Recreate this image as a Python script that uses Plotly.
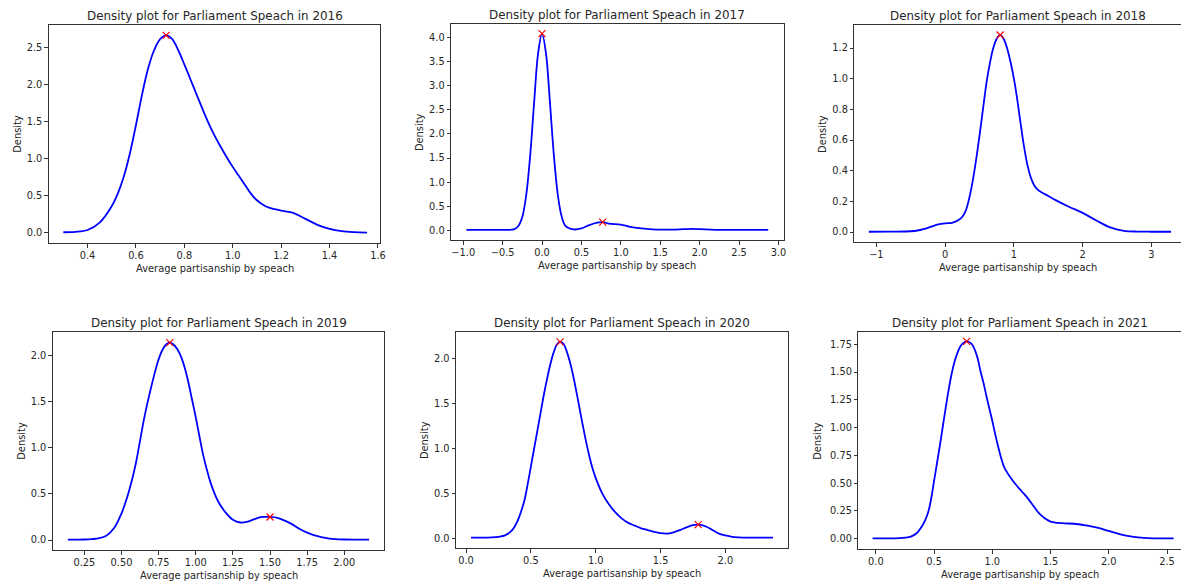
import plotly.graph_objects as go

# ---------------- data ----------------
years = ["2016", "2017", "2018", "2019", "2020", "2021"]

x_2016 = [0.30, 0.35, 0.40, 0.45, 0.50, 0.525, 0.55, 0.575, 0.60, 0.625, 0.65, 0.675, 0.70, 0.725,
          0.75, 0.775, 0.80, 0.825, 0.85, 0.875, 0.90, 0.925, 0.95, 0.975, 1.00, 1.025, 1.05, 1.075,
          1.10, 1.125, 1.15, 1.175, 1.20, 1.25, 1.30, 1.35, 1.40, 1.45, 1.50, 1.555]
y_2016 = [0.01, 0.015, 0.04, 0.14, 0.36, 0.53, 0.76, 1.07, 1.45, 1.86, 2.21, 2.46, 2.61, 2.66,
          2.61, 2.46, 2.27, 2.07, 1.87, 1.67, 1.48, 1.31, 1.16, 1.02, 0.89, 0.77, 0.65, 0.53,
          0.44, 0.38, 0.34, 0.32, 0.30, 0.27, 0.19, 0.11, 0.055, 0.025, 0.012, 0.006]
peak_x_2016 = [0.725]
peak_y_2016 = [2.66]

x_2017 = [-0.96, -0.7, -0.5, -0.4, -0.35, -0.3, -0.25, -0.2, -0.15, -0.1, -0.05, 0.0, 0.05, 0.1,
          0.15, 0.2, 0.25, 0.3, 0.4, 0.5, 0.6, 0.7, 0.77, 0.85, 1.0, 1.1, 1.2, 1.4, 1.6, 1.8, 1.9,
          2.0, 2.2, 2.5, 2.87]
y_2017 = [0.01, 0.01, 0.01, 0.012, 0.025, 0.09, 0.28, 0.74, 1.56, 2.66, 3.67, 4.08, 3.67, 2.66,
          1.56, 0.74, 0.28, 0.09, 0.02, 0.04, 0.11, 0.16, 0.17, 0.14, 0.12, 0.08, 0.05, 0.02, 0.015,
          0.025, 0.03, 0.025, 0.01, 0.01, 0.01]
peak_x_2017 = [0.0, 0.77]
peak_y_2017 = [4.08, 0.17]

x_2018 = [-1.11, -0.8, -0.5, -0.4, -0.3, -0.2, -0.1, 0.0, 0.1, 0.2, 0.25, 0.3, 0.35, 0.4, 0.45,
          0.5, 0.55, 0.6, 0.65, 0.7, 0.75, 0.8, 0.85, 0.9, 0.95, 1.0, 1.05, 1.1, 1.15, 1.2, 1.25,
          1.3, 1.35, 1.4, 1.5, 1.6, 1.8, 2.0, 2.2, 2.4, 2.6, 2.8, 3.0, 3.285]
y_2018 = [0.002, 0.003, 0.005, 0.01, 0.02, 0.035, 0.05, 0.057, 0.06, 0.08, 0.10, 0.14, 0.22, 0.33,
          0.47, 0.63, 0.80, 0.97, 1.10, 1.20, 1.26, 1.285, 1.26, 1.20, 1.11, 1.00, 0.86, 0.70, 0.55,
          0.43, 0.35, 0.30, 0.275, 0.26, 0.235, 0.21, 0.165, 0.125, 0.075, 0.03, 0.008, 0.003,
          0.002, 0.002]
peak_x_2018 = [0.80]
peak_y_2018 = [1.285]

x_2019 = [0.138, 0.2, 0.25, 0.3, 0.35, 0.4, 0.45, 0.5, 0.525, 0.55, 0.575, 0.6, 0.625, 0.65, 0.675,
          0.7, 0.725, 0.75, 0.775, 0.8, 0.825, 0.85, 0.875, 0.9, 0.925, 0.95, 0.975, 1.0, 1.025,
          1.05, 1.075, 1.1, 1.15, 1.2, 1.25, 1.3, 1.35, 1.4, 1.45, 1.5, 1.55, 1.6, 1.65, 1.7, 1.75,
          1.8, 1.85, 1.9, 2.0, 2.167]
y_2019 = [0.005, 0.005, 0.006, 0.01, 0.02, 0.05, 0.13, 0.29, 0.40, 0.53, 0.68, 0.86, 1.08, 1.30,
          1.49, 1.66, 1.82, 1.96, 2.06, 2.12, 2.14, 2.12, 2.07, 1.99, 1.87, 1.71, 1.52, 1.33, 1.12,
          0.92, 0.76, 0.62, 0.42, 0.30, 0.22, 0.19, 0.20, 0.23, 0.25, 0.25, 0.24, 0.21, 0.17, 0.12,
          0.08, 0.05, 0.03, 0.015, 0.006, 0.005]
peak_x_2019 = [0.825, 1.50]
peak_y_2019 = [2.14, 0.25]

x_2020 = [0.038, 0.1, 0.2, 0.25, 0.3, 0.35, 0.375, 0.4, 0.425, 0.45, 0.475, 0.5, 0.525, 0.55, 0.575,
          0.6, 0.625, 0.65, 0.675, 0.7, 0.725, 0.75, 0.775, 0.8, 0.825, 0.85, 0.875, 0.9, 0.925,
          0.95, 0.975, 1.0, 1.05, 1.1, 1.15, 1.2, 1.25, 1.3, 1.35, 1.4, 1.45, 1.5, 1.55, 1.6, 1.65,
          1.7, 1.75, 1.79, 1.85, 1.9, 1.95, 2.0, 2.05, 2.1, 2.2, 2.367]
y_2020 = [0.005, 0.005, 0.008, 0.015, 0.03, 0.08, 0.13, 0.20, 0.30, 0.42, 0.60, 0.80, 1.00, 1.20,
          1.40, 1.60, 1.78, 1.94, 2.07, 2.16, 2.19, 2.17, 2.09, 1.97, 1.82, 1.64, 1.45, 1.26, 1.08,
          0.92, 0.78, 0.67, 0.50, 0.38, 0.29, 0.22, 0.17, 0.14, 0.11, 0.09, 0.07, 0.055, 0.05, 0.065,
          0.09, 0.12, 0.145, 0.15, 0.13, 0.09, 0.05, 0.03, 0.015, 0.008, 0.005, 0.005]
peak_x_2020 = [0.725, 1.79]
peak_y_2020 = [2.19, 0.15]

x_2021 = [-0.028, 0.1, 0.2, 0.25, 0.3, 0.35, 0.4, 0.425, 0.45, 0.475, 0.5, 0.525, 0.55, 0.575, 0.6,
          0.625, 0.65, 0.675, 0.7, 0.725, 0.75, 0.78, 0.8, 0.825, 0.85, 0.875, 0.9, 0.925, 0.95,
          0.975, 1.0, 1.025, 1.05, 1.075, 1.1, 1.15, 1.2, 1.25, 1.3, 1.35, 1.4, 1.45, 1.5, 1.6, 1.7,
          1.8, 1.9, 2.0, 2.1, 2.2, 2.3, 2.4, 2.557]
y_2021 = [0.003, 0.003, 0.006, 0.01, 0.02, 0.05, 0.12, 0.17, 0.24, 0.36, 0.52, 0.68, 0.84, 1.01,
          1.18, 1.34, 1.48, 1.59, 1.67, 1.73, 1.76, 1.775, 1.77, 1.75, 1.70, 1.62, 1.50, 1.40, 1.28,
          1.17, 1.06, 0.94, 0.83, 0.73, 0.65, 0.56, 0.49, 0.43, 0.37, 0.30, 0.23, 0.185, 0.155,
          0.14, 0.135, 0.12, 0.10, 0.07, 0.04, 0.02, 0.008, 0.004, 0.003]
peak_x_2021 = [0.78]
peak_y_2021 = [1.775]

xticks = [
    [0.4, 0.6, 0.8, 1.0, 1.2, 1.4, 1.6],
    [-1.0, -0.5, 0.0, 0.5, 1.0, 1.5, 2.0, 2.5, 3.0],
    [-1, 0, 1, 2, 3],
    [0.25, 0.5, 0.75, 1.0, 1.25, 1.5, 1.75, 2.0],
    [0.0, 0.5, 1.0, 1.5, 2.0],
    [0.0, 0.5, 1.0, 1.5, 2.0, 2.5],
]
xticklabels = [
    ["0.4", "0.6", "0.8", "1.0", "1.2", "1.4", "1.6"],
    ["\u22121.0", "\u22120.5", "0.0", "0.5", "1.0", "1.5", "2.0", "2.5", "3.0"],
    ["\u22121", "0", "1", "2", "3"],
    ["0.25", "0.50", "0.75", "1.00", "1.25", "1.50", "1.75", "2.00"],
    ["0.0", "0.5", "1.0", "1.5", "2.0"],
    ["0.0", "0.5", "1.0", "1.5", "2.0", "2.5"],
]
yticks = [
    [0, 0.5, 1.0, 1.5, 2.0, 2.5],
    [0, 0.5, 1.0, 1.5, 2.0, 2.5, 3.0, 3.5, 4.0],
    [0, 0.2, 0.4, 0.6, 0.8, 1.0, 1.2],
    [0, 0.5, 1.0, 1.5, 2.0],
    [0, 0.5, 1.0, 1.5, 2.0],
    [0, 0.25, 0.5, 0.75, 1.0, 1.25, 1.5, 1.75],
]
yticklabels = [
    ["0.0", "0.5", "1.0", "1.5", "2.0", "2.5"],
    ["0.0", "0.5", "1.0", "1.5", "2.0", "2.5", "3.0", "3.5", "4.0"],
    ["0.0", "0.2", "0.4", "0.6", "0.8", "1.0", "1.2"],
    ["0.0", "0.5", "1.0", "1.5", "2.0"],
    ["0.0", "0.5", "1.0", "1.5", "2.0"],
    ["0.00", "0.25", "0.50", "0.75", "1.00", "1.25", "1.50", "1.75"],
]

title_text = "Density plot for Parliament Speach in "
xlabel_text = "Average partisanship by speach"
ylabel_text = "Density"

# ---------------- layout geometry ----------------
W, H = 1186, 583
# pixel boxes of the six plotting areas: (left, right, top, bottom)
boxes = [
    (49, 382, 25, 243),
    (453, 787, 24, 240),
    (858, 1186, 25, 242),
    (53, 386, 332, 550),
    (458, 791, 332, 548),
    (862, 1186, 332, 549),
]
xranges = [[0.24, 1.61], [-1.154, 3.066], [-1.32, 3.43], [0.037, 2.27], [-0.077, 2.48], [-0.15, 2.62]]
yranges = [[-0.135, 2.80], [-0.2, 4.28], [-0.065, 1.35], [-0.108, 2.255], [-0.11, 2.30], [-0.092, 1.86]]
ylabel_shift = [-32, -32, -32, -32, -32, -41]

xs = [x_2016, x_2017, x_2018, x_2019, x_2020, x_2021]
ys = [y_2016, y_2017, y_2018, y_2019, y_2020, y_2021]
pxs = [peak_x_2016, peak_x_2017, peak_x_2018, peak_x_2019, peak_x_2020, peak_x_2021]
pys = [peak_y_2016, peak_y_2017, peak_y_2018, peak_y_2019, peak_y_2020, peak_y_2021]

FONT = "DejaVu Sans"
TXT = "#262626"

fig = go.Figure()
annotations = []
layout_axes = {}

for i in range(6):
    n = "" if i == 0 else str(i + 1)
    xa, ya = "x" + n, "y" + n
    l, r, t, b = boxes[i]
    xd = [l / W, min(r / W, 1.0)]
    yd = [1 - b / H, 1 - t / H]
    cut = r >= W

    fig.add_trace(go.Scatter(x=xs[i], y=ys[i], mode="lines", xaxis=xa, yaxis=ya,
                             line=dict(color="#0000ff", width=1.8, shape="spline", smoothing=1.0),
                             showlegend=False, hoverinfo="skip"))
    fig.add_trace(go.Scatter(x=pxs[i], y=pys[i], mode="markers", xaxis=xa, yaxis=ya,
                             marker=dict(symbol="x-thin", size=7, color="red",
                                         line=dict(width=1.2, color="red")),
                             showlegend=False, hoverinfo="skip"))

    common = dict(showline=True, linecolor="#333333", linewidth=1, ticks="outside",
                  ticklen=3.5, tickwidth=1, tickcolor="#333333", showgrid=False, zeroline=False,
                  tickfont=dict(family=FONT, size=9.8, color=TXT))
    layout_axes["xaxis" + n] = dict(domain=xd, range=xranges[i], anchor=ya, mirror=True,
                                    tickmode="array", tickvals=xticks[i], ticktext=xticklabels[i],
                                    **common)
    layout_axes["yaxis" + n] = dict(domain=yd, range=yranges[i], anchor=xa,
                                    mirror=(not cut),
                                    tickmode="array", tickvals=yticks[i], ticktext=yticklabels[i],
                                    **common)

    cx = (l + r) / 2 / W
    annotations.append(dict(text=title_text + years[i], xref="paper", yref="paper",
                            x=cx, y=yd[1], xanchor="center", yanchor="middle", yshift=9,
                            showarrow=False, font=dict(family=FONT, size=11.9, color=TXT)))
    annotations.append(dict(text=xlabel_text, xref="paper", yref="paper",
                            x=cx, y=yd[0], xanchor="center", yanchor="middle", yshift=-25,
                            showarrow=False, font=dict(family=FONT, size=9.9, color=TXT)))
    annotations.append(dict(text=ylabel_text, xref="paper", yref="paper", textangle=-90,
                            x=xd[0], y=(yd[0] + yd[1]) / 2, xanchor="center", yanchor="middle",
                            xshift=ylabel_shift[i],
                            showarrow=False, font=dict(family=FONT, size=9.9, color=TXT)))

fig.update_layout(width=W, height=H, autosize=False,
                  margin=dict(l=0, r=0, t=0, b=0),
                  paper_bgcolor="white", plot_bgcolor="white",
                  annotations=annotations, **layout_axes)

fig.write_html("out.html")
